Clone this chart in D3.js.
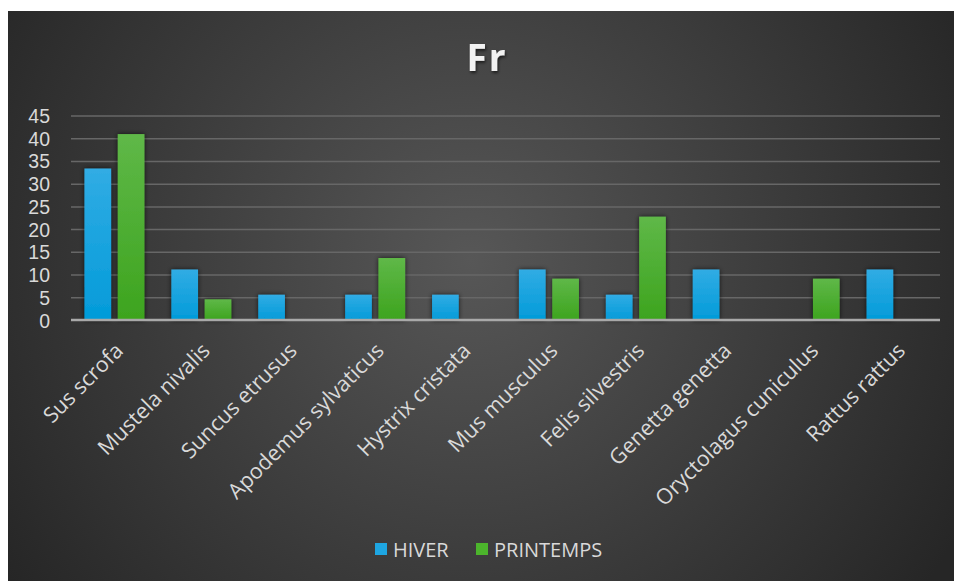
<!DOCTYPE html>
<html>
<head>
<meta charset="utf-8">
<script src="https://cdn.jsdelivr.net/npm/d3@7/dist/d3.min.js"></script>
<style>
  html, body { margin: 0; padding: 0; background: #ffffff; }
  svg { display: block; font-family: "Open Sans", "Noto Sans", sans-serif; }
</style>
</head>
<body>
<svg id="chart" width="954" height="581"></svg>
<script>
const categories = ["Sus scrofa", "Mustela nivalis", "Suncus etrusus", "Apodemus sylvaticus", "Hystrix cristata",
  "Mus musculus", "Felis silvestris", "Genetta genetta", "Oryctolagus cuniculus", "Rattus rattus"];
const seriesNames = ["HIVER", "PRINTEMPS"];
const hiver = [33.33, 11.11, 5.56, 5.56, 5.56, 11.11, 5.56, 11.11, 0, 11.11];
const printemps = [40.91, 4.55, 0, 13.64, 0, 9.09, 22.73, 0, 9.09, 0];
const yTicks = [0, 5, 10, 15, 20, 25, 30, 35, 40, 45];
const title = "Fr";

const seriesValues = [hiver, printemps];
const colors = ["url(#gBlue)", "url(#gGreen)"];
const legendColors = ["#1ea6e2", "#4cb52c"];

const svg = d3.select("#chart");
const defs = svg.append("defs");

const bg = defs.append("radialGradient").attr("id", "bg")
  .attr("gradientUnits", "userSpaceOnUse")
  .attr("cx", 470).attr("cy", 260).attr("r", 560);
bg.append("stop").attr("offset", "0%").attr("stop-color", "#575757");
bg.append("stop").attr("offset", "100%").attr("stop-color", "#262626");

const gb = defs.append("linearGradient").attr("id", "gBlue").attr("x1", 0).attr("y1", 0).attr("x2", 0).attr("y2", 1);
gb.append("stop").attr("offset", "0%").attr("stop-color", "#31ace4");
gb.append("stop").attr("offset", "100%").attr("stop-color", "#029bd9");
const gg = defs.append("linearGradient").attr("id", "gGreen").attr("x1", 0).attr("y1", 0).attr("x2", 0).attr("y2", 1);
gg.append("stop").attr("offset", "0%").attr("stop-color", "#5fb848");
gg.append("stop").attr("offset", "100%").attr("stop-color", "#3da41e");

const sh = defs.append("filter").attr("id", "shadow").attr("x", "-30%").attr("y", "-30%").attr("width", "160%").attr("height", "160%");
sh.append("feDropShadow").attr("dx", 0).attr("dy", 0).attr("stdDeviation", 2.5)
  .attr("flood-color", "#000").attr("flood-opacity", 0.7);
const tsh = defs.append("filter").attr("id", "tshadow").attr("x", "-30%").attr("y", "-30%").attr("width", "160%").attr("height", "160%");
tsh.append("feDropShadow").attr("dx", 1).attr("dy", 2).attr("stdDeviation", 1.5)
  .attr("flood-color", "#000").attr("flood-opacity", 0.6);

svg.append("rect").attr("x", 8).attr("y", 11).attr("width", 946).attr("height", 570).attr("fill", "url(#bg)");

const plotLeft = 71, plotRight = 940, plotTop = 115.5, plotBottom = 320;

const x0 = d3.scaleBand().domain(categories).range([plotLeft, plotRight])
  .paddingInner(0.31).paddingOuter(0.155);
const x1 = d3.scaleBand().domain(seriesNames).range([0, x0.bandwidth()]).paddingInner(0.2);
const y = d3.scaleLinear().domain([0, 45]).range([plotBottom, plotTop]);

// gridlines
const grid = svg.append("g")
  .attr("transform", `translate(${plotLeft},0)`)
  .call(d3.axisLeft(y).tickValues(yTicks.filter(t => t > 0)).tickSize(-(plotRight - plotLeft)).tickFormat(""));
grid.select(".domain").remove();
grid.selectAll(".tick line").attr("stroke", "#676767").attr("stroke-width", 1.5);

// y labels
const yAxis = svg.append("g")
  .attr("transform", `translate(50,0)`)
  .call(d3.axisLeft(y).tickValues(yTicks).tickSize(0).tickPadding(0));
yAxis.attr("font-family", null).attr("font-size", null);
yAxis.select(".domain").remove();
yAxis.selectAll(".tick text").attr("fill", "#d9d9d9")
  .style("font-size", "19.5px")
  .style("font-family", "'Liberation Sans', Arial, sans-serif").attr("dy", "0.36em");

// bars
const groups = svg.append("g").selectAll("g").data(categories).join("g")
  .attr("transform", d => `translate(${x0(d)},0)`);
groups.selectAll("rect")
  .data((d, i) => seriesNames.map((s, k) => ({ s, k, v: seriesValues[k][i] })).filter(e => e.v > 0))
  .join("rect")
  .attr("x", e => x1(e.s))
  .attr("width", x1.bandwidth())
  .attr("y", e => y(e.v))
  .attr("height", e => y(0) - y(e.v))
  .attr("fill", e => colors[e.k])
  .attr("filter", "url(#shadow)");

// x axis line
const xAxis = svg.append("g")
  .attr("transform", `translate(0,${plotBottom})`)
  .call(d3.axisBottom(x0).tickSize(0).tickPadding(0));
xAxis.select(".domain").attr("stroke", "#a9a9a9").attr("stroke-width", 2.5)
  .attr("d", `M${plotLeft},0H${plotRight}`);
xAxis.selectAll(".tick text")
  .attr("fill", "#d9d9d9")
  .style("font-size", "21.5px")
  .style("font-family", "'Open Sans', sans-serif")
  .attr("text-anchor", "end")
  .attr("dy", 0)
  .attr("transform", "translate(10,32) rotate(-45)");

// title
svg.append("text").attr("x", 487).attr("y", 71).attr("text-anchor", "middle")
  .attr("font-size", 37).attr("font-weight", "bold").attr("fill", "#f2f2f2")
  .attr("letter-spacing", 2).attr("filter", "url(#tshadow)").text(title);

// legend
const legend = svg.append("g");
const legX = [375, 476];
seriesNames.forEach((s, k) => {
  legend.append("rect").attr("x", legX[k]).attr("y", 543).attr("width", 12).attr("height", 12).attr("fill", legendColors[k]);
  legend.append("text").attr("x", legX[k] + 18).attr("y", 557).attr("fill", "#d9d9d9")
    .attr("font-size", 20).text(s);
});
</script>
</body>
</html>
